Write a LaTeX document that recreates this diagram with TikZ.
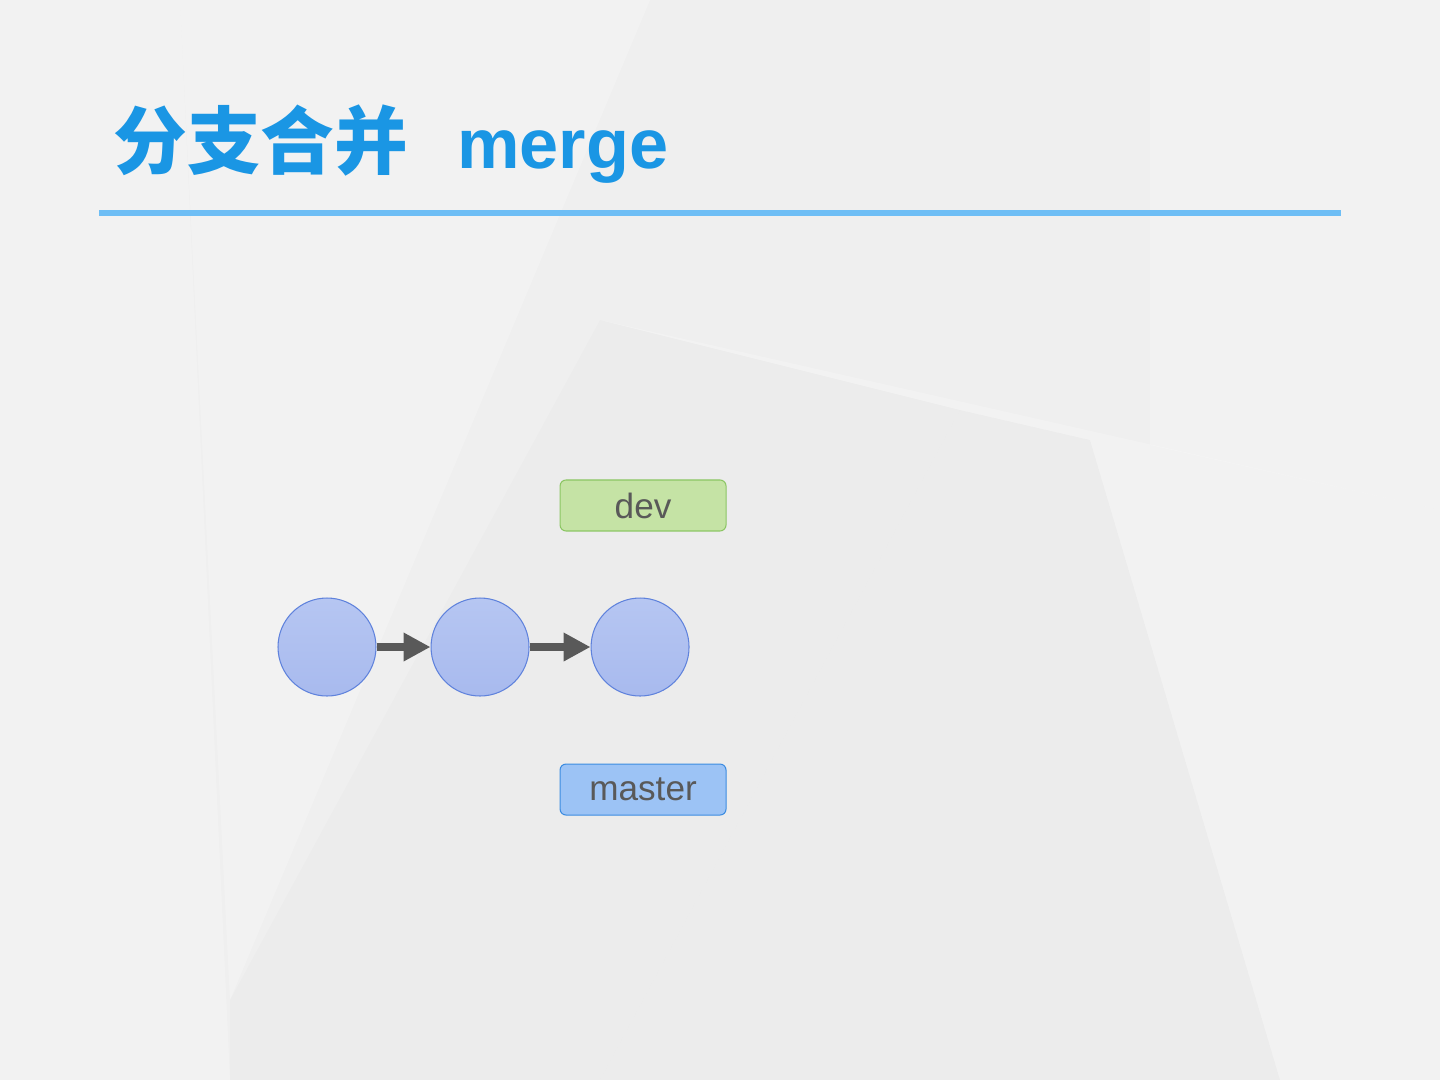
\documentclass[tikz,border=0pt]{standalone}
\usepackage{fontspec}
\setmainfont{Liberation Sans}
\newfontfamily\cjk{Noto Sans CJK SC}
\usetikzlibrary{positioning,arrows.meta}

\definecolor{titleblue}{RGB}{26,150,228}
\definecolor{ruleblue}{RGB}{110,190,245}
\definecolor{labelgray}{RGB}{89,89,89}
\definecolor{devfill}{RGB}{197,227,165}
\definecolor{devdraw}{RGB}{140,198,100}
\definecolor{masterfill}{RGB}{156,195,245}
\definecolor{masterdraw}{RGB}{60,140,225}
\definecolor{committop}{RGB}{182,198,242}
\definecolor{commitbot}{RGB}{168,186,238}
\definecolor{commitdraw}{RGB}{95,130,220}
\definecolor{arrowgray}{RGB}{89,89,89}
\definecolor{bgbase}{RGB}{239,239,239}

\begin{document}
\begin{tikzpicture}[
    x=0.02cm, y=-0.02cm,
    every node/.style={align=center},
    commit/.style={circle, draw=commitdraw, line width=0.6pt, top color=committop, bottom color=commitbot, minimum size=1.96cm, inner sep=0pt},
    branch/.style={draw, rounded corners=0.12cm, minimum width=3.32cm, minimum height=1.02cm, inner sep=0pt, line width=0.6pt, font=\fontsize{20}{24}\selectfont, text=labelgray},
    dev/.style={branch, fill=devfill, draw=devdraw},
    master/.style={branch, fill=masterfill, draw=masterdraw},
    link/.style={-{Triangle[length=0.54cm, width=0.54cm]}, line width=0.16cm, draw=arrowgray},
    facet/.style={fill=white, opacity=0.22, draw=none}
]
% Background with faint facets
\fill[bgbase] (0,0) rectangle (1440,1080);
\fill[facet] (0,0) -- (180,0) -- (230,1080) -- (0,1080) -- cycle;
\fill[facet] (180,0) -- (650,0) -- (230,1000) -- cycle;
\fill[facet] (600,320) -- (1440,510) -- (1440,1080) -- (1280,1080) -- (1090,440) -- (960,410) -- cycle;
\fill[black, opacity=0.012] (230,1000) -- (600,320) -- (960,410) -- (600,1080) -- (230,1080) -- cycle;
\fill[facet] (1150,0) -- (1440,0) -- (1440,510) -- (1150,445) -- cycle;
\fill[black, opacity=0.01] (1090,440) -- (1280,1080) -- (600,1080) -- (960,410) -- cycle;

% Title
\node[anchor=base west, inner sep=0pt, text=titleblue, font=\cjk\bfseries\fontsize{42}{48}\selectfont] (titlecn) at (113,168) {分支合并};
\node[anchor=base west, inner sep=0pt, text=titleblue, font=\bfseries\fontsize{40}{48}\selectfont] (titleen) at (457,168) {merge};
\fill[ruleblue] (99,210) rectangle (1341,216);

% Commits
\node[commit] (c1) at (327,647) {};
\node[commit, right=1.08cm of c1] (c2) {};
\node[commit, right=1.22cm of c2] (c3) {};

\draw[link] (c1) -- (c2);
\draw[link] (c2) -- (c3);

% Branch pointers
\node[dev, above=1.32cm of c3, xshift=0.06cm] (devlbl) {dev};
\node[master, below=1.34cm of c3, xshift=0.06cm] (masterlbl) {master};
\end{tikzpicture}
\end{document}
